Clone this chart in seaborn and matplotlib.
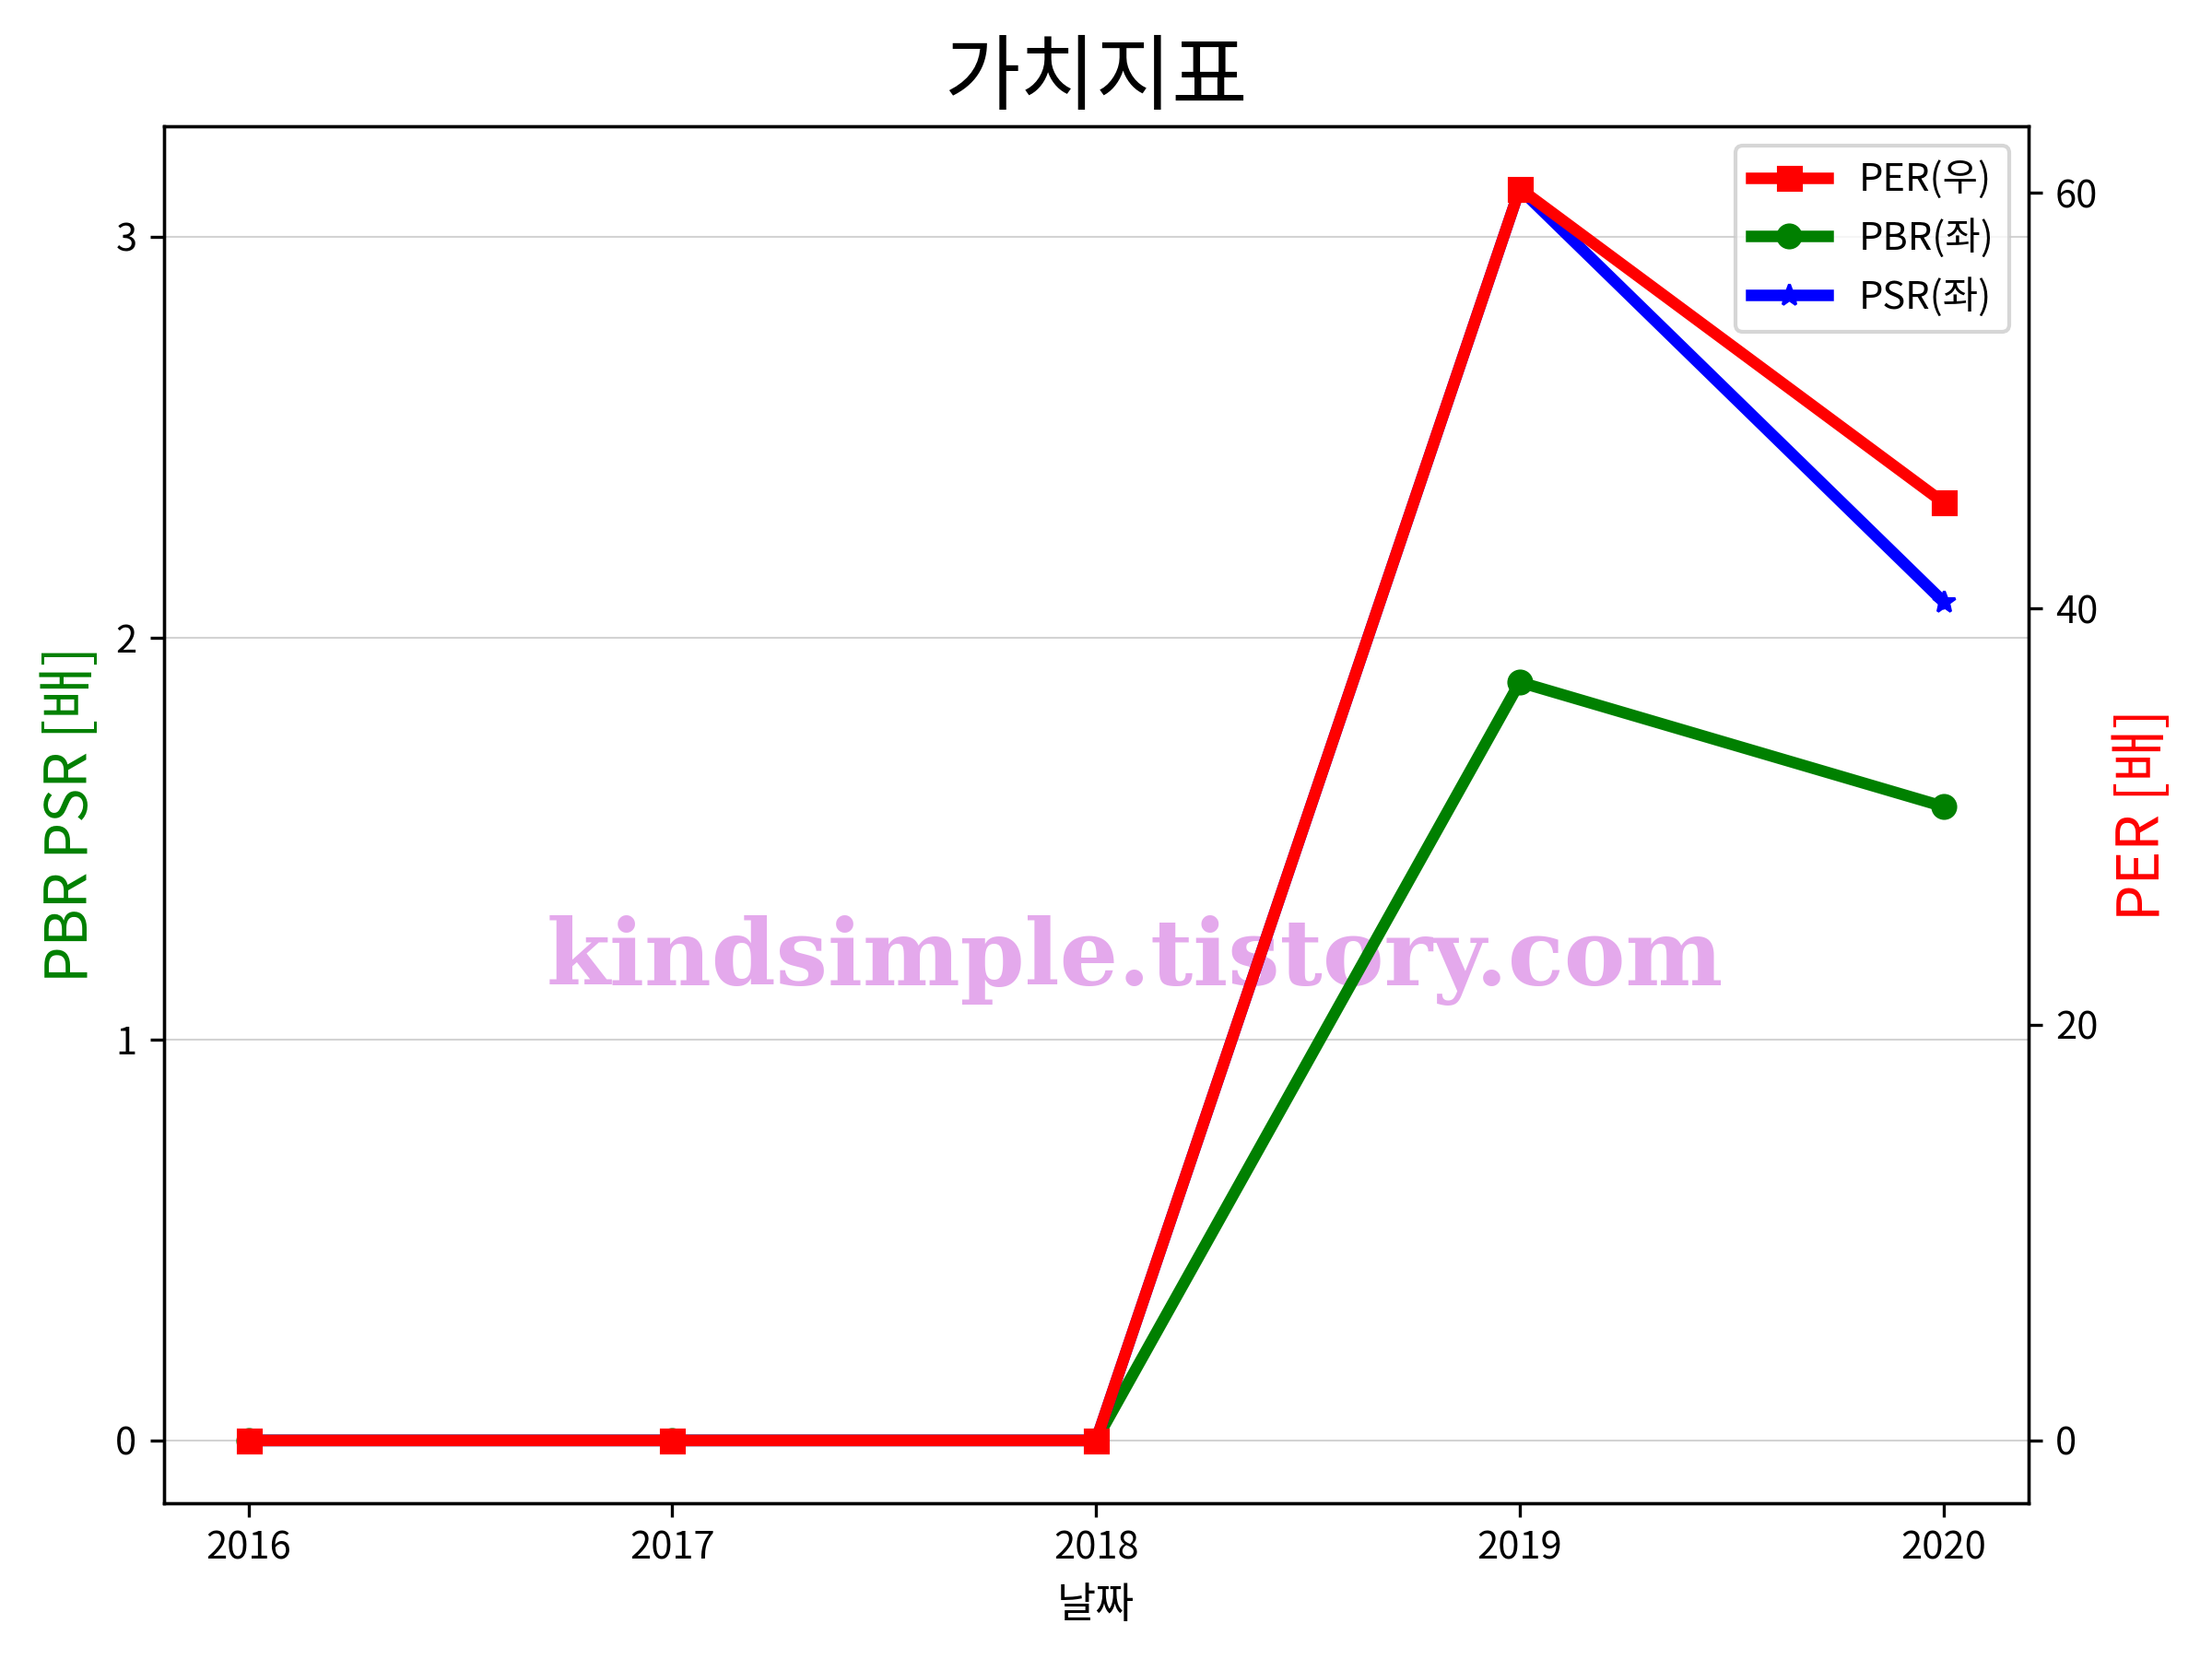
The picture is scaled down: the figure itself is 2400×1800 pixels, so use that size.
import matplotlib
matplotlib.use("Agg")
import matplotlib.pyplot as plt
import seaborn as sns

# 데이터
years = [2016, 2017, 2018, 2019, 2020]
per = [0, 0, 0, 60.2, 45.1]
pbr = [0, 0, 0, 1.89, 1.58]
psr = [0, 0, 0, 3.12, 2.09]

plt.rcParams['font.family'] = ['Noto Sans CJK KR', 'DejaVu Sans']

fig, ax = plt.subplots(figsize=(8, 6), dpi=300)
fig.subplots_adjust(left=0.074, right=0.917, top=0.924, bottom=0.094)

# 좌측 축: PBR, PSR
sns.lineplot(x=years, y=pbr, ax=ax, color='green', marker='o', lw=3,
             markeredgecolor='green', label='PBR(좌)')
sns.lineplot(x=years, y=psr, ax=ax, color='blue', marker='*', lw=3,
             markeredgecolor='blue', label='PSR(좌)')
ax.set_ylabel('PBR PSR [배]', color='green', fontsize=15)
ax.set_xlabel('날짜', fontsize=11)
ax.set_xticks(years)
ax.set_yticks([0, 1, 2, 3])
ax.grid(axis='y', color='lightgray', lw=0.5)
ax.set_axisbelow(True)

# 워터마크
ax.text(0.521, 0.394, 'kindsimple.tistory.com', transform=ax.transAxes,
        ha='center', va='center', fontsize=24, fontweight='bold',
        family='DejaVu Serif', color='#e4a9ec', zorder=0)

# 우측 축: PER
ax2 = ax.twinx()
sns.lineplot(x=years, y=per, ax=ax2, color='red', marker='s', lw=3,
             markeredgecolor='red', label='PER(우)')
ax2.set_ylabel('PER [배]', color='red', fontsize=15)
ax2.set_yticks([0, 20, 40, 60])

# 범례 합치기
h1, l1 = ax.get_legend_handles_labels()
h2, l2 = ax2.get_legend_handles_labels()
ax.get_legend().remove()
ax2.legend(h2 + h1, l2 + l1, loc='upper right', fontsize=10)

ax.set_title('가치지표', fontsize=21.5)

plt.savefig('out.png', dpi=300)
